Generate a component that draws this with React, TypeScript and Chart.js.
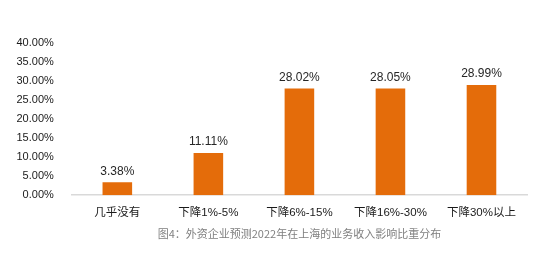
import React, { useEffect, useRef } from "react";
import { Chart, registerables } from "chart.js";

Chart.register(...registerables);

const categories = ["几乎没有", "下降1%-5%", "下降6%-15%", "下降16%-30%", "下降30%以上"];
const values = [3.38, 11.11, 28.02, 28.05, 28.99];
const yTicks = [0, 5, 10, 15, 20, 25, 30, 35, 40];
const caption = "图4：外资企业预测2022年在上海的业务收入影响比重分布";

const FONT = "'Liberation Sans', Arial, 'Noto Sans CJK SC', sans-serif";

const dataLabels = {
  id: "dataLabels",
  afterDatasetsDraw(chart: any) {
    const ctx = chart.ctx;
    const meta = chart.getDatasetMeta(0);
    ctx.save();
    ctx.font = `12px ${FONT}`;
    ctx.fillStyle = "#262626";
    ctx.textAlign = "center";
    ctx.textBaseline = "bottom";
    meta.data.forEach((el: any, i: number) => {
      ctx.fillText(values[i].toFixed(2) + "%", el.x, el.y - 5);
    });
    const area = chart.chartArea;
    ctx.font = `11px 'Noto Sans CJK SC', serif`;
    ctx.fillStyle = "#7F7F7F";
    ctx.textBaseline = "middle";
    ctx.fillText(caption, (area.left + area.right) / 2, area.bottom + 38.5);
    ctx.restore();
  },
};

export default function App() {
  const ref = useRef<HTMLCanvasElement>(null);
  useEffect(() => {
    document.body.style.margin = "0";
    const chart = new Chart(ref.current!, {
      type: "bar",
      data: {
        labels: categories,
        datasets: [
          {
            data: values,
            backgroundColor: "#E46C0A",
            barPercentage: 0.65,
            categoryPercentage: 0.5,
          },
        ],
      },
      options: {
        animation: false,
        responsive: false,
        layout: { padding: { top: 43, left: 6.5, right: 23, bottom: 54 } },
        plugins: {
          legend: { display: false },
          tooltip: { enabled: false },
        },
        scales: {
          x: {
            grid: { display: false },
            border: { display: true, color: "#D9D9D9", width: 1.5 },
            ticks: {
              color: "#1a1a1a",
              font: { family: FONT, size: 11.5 },
              padding: 3,
              maxRotation: 0,
              autoSkip: false,
            },
          },
          y: {
            min: 0,
            max: 40,
            afterBuildTicks(axis: any) {
              axis.ticks = yTicks.map((v) => ({ value: v }));
            },
            grid: { display: false },
            border: { display: false },
            ticks: {
              color: "#1a1a1a",
              font: { family: FONT, size: 11 },
              padding: 10,
              callback: (v: any) => Number(v).toFixed(2) + "%",
            },
          },
        },
      },
      plugins: [dataLabels],
    });
    return () => chart.destroy();
  }, []);
  return (
    <div style={{ width: 550, height: 277, background: "#fff" }}>
      <canvas ref={ref} width={550} height={277} />
    </div>
  );
}
